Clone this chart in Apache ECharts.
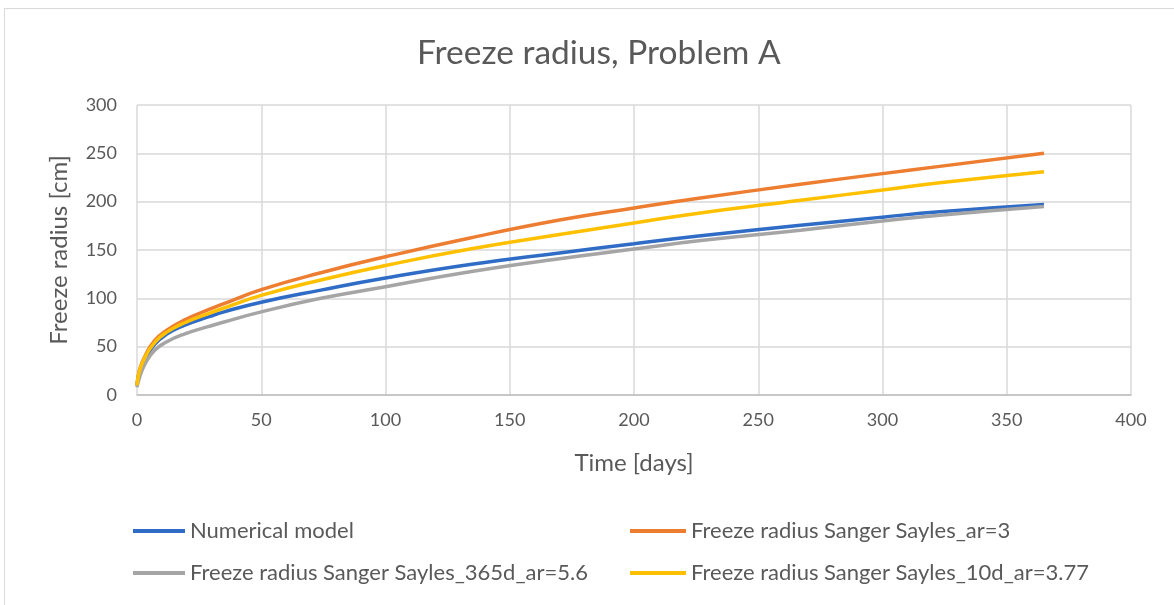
<!DOCTYPE html>
<html>
<head>
<meta charset="utf-8">
<script src="https://cdn.jsdelivr.net/npm/echarts@6/dist/echarts.min.js"></script>
<style>
  html,body{margin:0;padding:0;background:#fff;overflow:hidden}
  #frame{position:absolute;left:4px;top:8px;width:1200px;height:640px;border:1px solid #d9d9d9}
  #chart{position:absolute;left:0;top:0;width:1174px;height:605px}
</style>
</head>
<body>
<div id="frame"></div>
<div id="chart"></div>
<script>
// days
var days = [0, 1, 3, 7, 12, 19, 29, 35, 50, 74, 100, 134, 170, 200, 226, 267, 300, 323, 365];

var numericalModel = [10, 24, 36, 52, 63, 72, 81, 86, 96, 108.5, 121, 135, 147, 156.5, 164.5, 175.5, 184, 189.5, 197];
var sangerAr3      = [10, 26, 39, 56, 67, 77.5, 88.5, 94.5, 109, 126.5, 143, 162.5, 181, 193.5, 203.5, 218, 229, 236.5, 250];
var sanger365d     = [8, 18, 31, 46, 55, 63, 71, 75.5, 86, 100, 112, 127.5, 141, 151, 159.5, 170.5, 180, 186, 195];
var sanger10d      = [10, 25, 38, 54, 65, 74.5, 84.5, 90, 103, 119, 134, 151, 166, 178, 188, 201.5, 212, 219.5, 231];

var seriesNames = [
  'Numerical model',
  'Freeze radius Sanger Sayles_ar=3',
  'Freeze radius Sanger Sayles_365d_ar=5.6',
  'Freeze radius Sanger Sayles_10d_ar=3.77'
];
var seriesColors = ['#2F6CC6', '#ED7D31', '#A5A5A5', '#FFC000'];
var seriesValues = [numericalModel, sangerAr3, sanger365d, sanger10d];

function pairs(vals){ return days.map(function(d,i){ return [d, vals[i]]; }); }

var font = 'Lato, "Open Sans", sans-serif';
var grey = '#595959';

var chart = echarts.init(document.getElementById('chart'), null, {renderer:'canvas'});
chart.setOption({
  animation: false,
  backgroundColor: 'transparent',
  color: seriesColors,
  title: {
    text: 'Freeze radius, Problem A',
    left: 412, top: 31,
    textStyle: {fontFamily: font, fontSize: 33.5, fontWeight: 'normal', color: grey}
  },
  legend: [
    {
      left: 128, top: 515, orient: 'vertical', itemGap: 20,
      itemWidth: 52, itemHeight: 4, icon: 'rect',
      data: [seriesNames[0], seriesNames[2]],
      textStyle: {fontFamily: font, fontSize: 22, color: grey}
    },
    {
      left: 625, top: 515, orient: 'vertical', itemGap: 20,
      itemWidth: 56, itemHeight: 4, icon: 'rect',
      data: [seriesNames[1], seriesNames[3]],
      textStyle: {fontFamily: font, fontSize: 22, color: grey}
    }
  ],
  grid: {left: 137, right: 43, top: 105, bottom: 210, containLabel: false},
  xAxis: {
    type: 'value', min: 0, max: 400, interval: 50,
    name: 'Time [days]', nameLocation: 'middle', nameGap: 56,
    nameTextStyle: {fontFamily: font, fontSize: 24, color: grey},
    axisLine: {show: true, lineStyle: {color: '#bfbfbf', width: 1.5}},
    axisTick: {show: false},
    axisLabel: {fontFamily: font, fontSize: 18, color: grey, margin: 16},
    splitLine: {show: true, lineStyle: {color: '#d9d9d9', width: 1.5}}
  },
  yAxis: {
    type: 'value', min: 0, max: 300, interval: 50,
    name: 'Freeze radius [cm]', nameLocation: 'middle', nameGap: 66, nameRotate: 90,
    nameTextStyle: {fontFamily: font, fontSize: 24, color: grey},
    axisLine: {show: false},
    axisTick: {show: false},
    axisLabel: {fontFamily: font, fontSize: 18, color: grey, margin: 20},
    splitLine: {show: true, lineStyle: {color: '#d9d9d9', width: 1.5}}
  },
  series: seriesNames.map(function(n, i){
    return {
      name: n, type: 'line', showSymbol: false, symbol: 'none',
      smooth: 0.5,
      lineStyle: {width: 3.5, color: seriesColors[i]},
      itemStyle: {color: seriesColors[i]},
      data: pairs(seriesValues[i])
    };
  })
});
</script>
</body>
</html>
